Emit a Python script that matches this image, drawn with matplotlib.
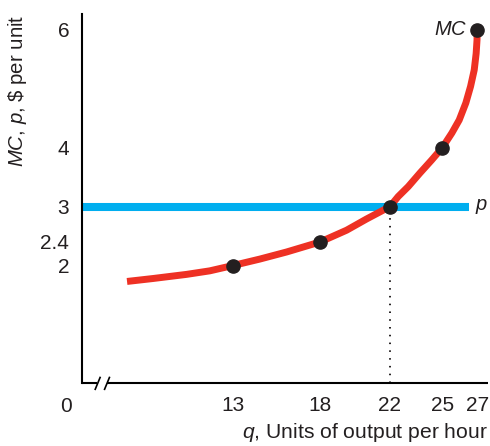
import matplotlib
matplotlib.use("Agg")
import matplotlib.pyplot as plt

plt.rcParams['font.family'] = ['Liberation Sans', 'DejaVu Sans']
plt.rcParams['mathtext.fontset'] = 'custom'
plt.rcParams['mathtext.it'] = 'Liberation Sans:italic'
plt.rcParams['mathtext.rm'] = 'Liberation Sans'

# MC curve
mc_q = [6.94, 8.43, 10.35, 11.68, 13, 14.55, 16.08, 18, 19.52, 20.66, 22,
        22.47, 23.05, 23.72, 24.39, 25, 25.55, 25.97, 26.35, 26.62, 26.83, 26.94, 26.99, 27]
mc_p = [1.73, 1.78, 1.85, 1.91, 2.0, 2.11, 2.23, 2.4, 2.6, 2.79, 3.0,
        3.17, 3.34, 3.57, 3.79, 4.0, 4.25, 4.47, 4.76, 5.04, 5.32, 5.6, 5.83, 6.0]

# marked points
dot_q = [13, 18, 22, 25, 27]
dot_p = [2, 2.4, 3, 4, 6]

price = 3
price_end = 26.52
q_star = 22

xticks = [13, 18, 22, 25, 27]
yticks = [2, 2.4, 3, 4, 6]
ylabels = ['2', '2.4', '3', '4', '6']

fig = plt.figure(figsize=(4.9, 4.46), dpi=100)
ax = fig.add_axes([0.167, 0.1404, 0.8286, 0.8283])
xmin, xmax = 4.35, 27.61
ax.set_xlim(xmin, xmax)
ax.set_ylim(0, 6.27)

ax.plot([xmin, price_end], [price, price], color='#00aeef', lw=5.8, solid_capstyle='butt', zorder=2)
ax.plot(mc_q, mc_p, color='#ee3124', lw=5.0, solid_capstyle='butt', solid_joinstyle='round', zorder=3)
ax.plot([q_star, q_star], [0, price], color='#231f20', lw=1.4, ls=(0, (0.8, 3.2)), zorder=1)
ax.plot(dot_q, dot_p, 'o', color='#231f20', ms=9.5, zorder=4, clip_on=False)

ax.text(26.45, 6, '$MC$', fontsize=14.5, ha='right', va='center', color='#231f20')
ax.text(26.88, price, '$p$', fontsize=14.5, ha='left', va='center', color='#231f20')

for s in ['top', 'right', 'bottom']:
    ax.spines[s].set_visible(False)
ax.spines['left'].set_linewidth(1.5)

# broken x axis
ax.plot([0, 0.037], [0, 0], transform=ax.transAxes, color='black', lw=1.5, clip_on=False, solid_capstyle='butt')
ax.plot([0.061, 1], [0, 0], transform=ax.transAxes, color='black', lw=1.5, clip_on=False, solid_capstyle='butt')
for bx in [0.033, 0.056]:
    ax.plot([bx, bx + 0.012], [-0.016, 0.016], transform=ax.transAxes, color='black', lw=1.2, clip_on=False)

ax.set_xticks(xticks)
ax.set_xticklabels([str(v) for v in xticks])
ax.set_yticks(yticks)
ax.set_yticklabels(ylabels)
ax.tick_params(length=0, labelsize=15, colors='#231f20')
ax.tick_params(axis='x', pad=9)
ax.tick_params(axis='y', pad=9)
ax.text(-0.024, -0.036, '0', transform=ax.transAxes, fontsize=15, ha='right', va='top', color='#231f20')

fig.text(0.996, 0.018, '$q$, Units of output per hour', fontsize=15.2, ha='right', va='baseline', color='#231f20')
fig.text(0.036, 0.968, r'$MC$, $p$, \$ per unit', fontsize=14.7, rotation=90, ha='center', va='top', color='#231f20')

fig.savefig('out.png', dpi=100)
